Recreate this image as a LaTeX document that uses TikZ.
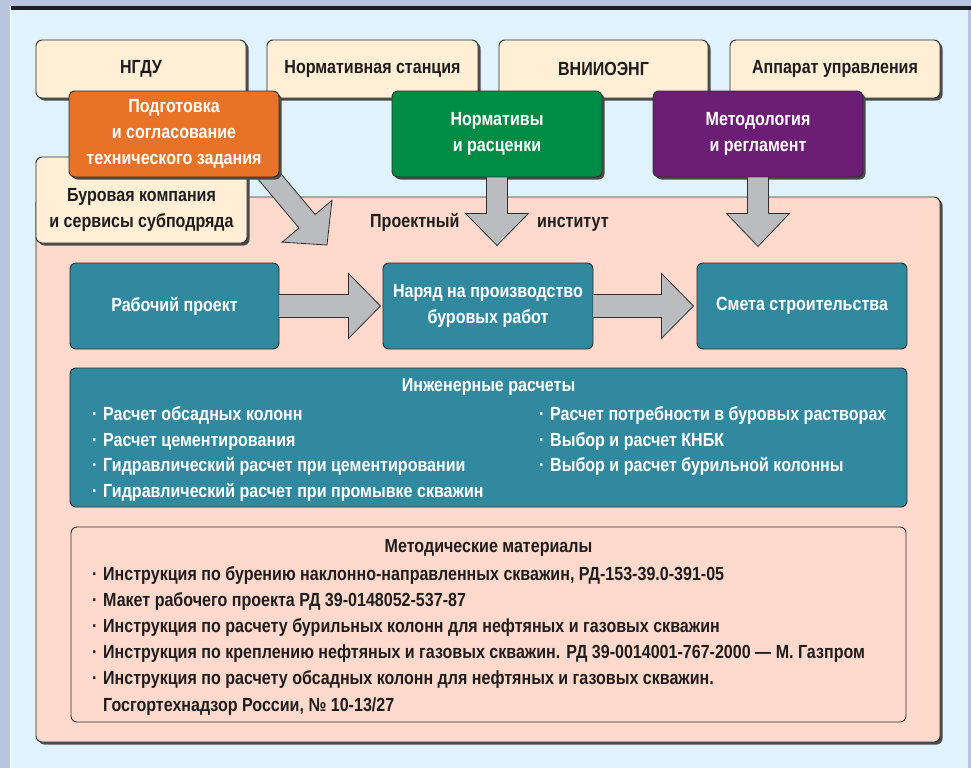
\documentclass[tikz,border=0pt]{standalone}
\usepackage{fontspec}
\setmainfont{Liberation Sans}[FakeStretch=0.845]
\usetikzlibrary{shadows}
\definecolor{bgblue}{HTML}{E0F2FC}
\definecolor{lav}{HTML}{B9C4DF}
\definecolor{blackbar}{HTML}{1E1E22}
\definecolor{cream}{HTML}{FFEFD6}
\definecolor{orng}{HTML}{E87228}
\definecolor{grn}{HTML}{008C44}
\definecolor{purp}{HTML}{6C1D74}
\definecolor{pinkbg}{HTML}{FFDACC}
\definecolor{teal2}{HTML}{3189A0}
\definecolor{arrgray}{HTML}{BBBCC0}
\definecolor{edge}{HTML}{2E2E2E}
\definecolor{ink}{HTML}{1F1C1D}
\definecolor{shadc}{HTML}{4A4A4A}
\tikzset{
  txt/.style={font=\bfseries\fontsize{19}{26}\selectfont, inner sep=0pt},
  box/.style={draw=edge, line width=0.9pt, rounded corners=6pt, inner sep=0pt},
  dropsh/.style={drop shadow={shadow xshift=2.5pt, shadow yshift=-2.5pt, fill=shadc, opacity=1}},
  creambox/.style={box, dropsh, fill=cream, text=ink, txt, align=center},
  colbox/.style={box, dropsh, text=white, txt, align=center},
  tealbox/.style={box, fill=teal2, text=white, txt, align=center},
  fat/.style={fill=arrgray, draw=edge, line width=0.8pt, line join=miter},
  dark/.style={txt, text=ink},
  light/.style={txt, text=white},
}
\newcommand\itm{\makebox[11pt][l]{·}}
\begin{document}
\begin{tikzpicture}[x=1pt,y=-1pt]
\useasboundingbox (0,0) rectangle (971,768);
\fill[bgblue] (0,0) rectangle (971,768);
\fill[lav] (0,0) rectangle (971,6);
\fill[lav] (0,0) rectangle (10,768);
\fill[lav] (968,6) rectangle (971,768);
\fill[white] (10,6) rectangle (11,768);
\fill[blackbar] (11,6) rectangle (971,10);

% big pink area
\node[box, dropsh, fill=pinkbg, minimum width=904pt, minimum height=545pt] (pi) at (488,469.5) {};

% top cream boxes
\node[creambox, minimum width=210pt, minimum height=58pt] (ngdu) at (141,69) {НГДУ};
\node[creambox, minimum width=211pt, minimum height=58pt] (ns) at (372.5,69) {Нормативная станция};
\node[creambox, minimum width=209pt, minimum height=58pt] (vn) at (603.5,69) {ВНИИОЭНГ};
\node[creambox, minimum width=210pt, minimum height=58pt] (au) at (835,69) {Аппарат управления};

% drilling company box
\node[creambox, minimum width=211pt, minimum height=86pt] (bur) at (141.5,200) {};
\node[dark, align=center] (burt) at (141.5,209.5) {Буровая компания\\и сервисы субподряда};

% diagonal arrow (tail hidden under the orange box)
\coordinate (dtip) at (327,245);
\begin{scope}[shift={(dtip)}, rotate=-50]
\filldraw[fat] (0,0) -- (-31,-32.5) -- (-31,-10.5) -- (-125,-10.5) -- (-125,10.5) -- (-31,10.5) -- (-31,32.5) -- cycle;
\end{scope}

% coloured boxes
\node[colbox, fill=orng, minimum width=210pt, minimum height=86pt] (pod) at (174,134) {Подготовка\\и согласование\\технического задания};
\node[colbox, fill=grn, minimum width=210pt, minimum height=86pt] (nrm) at (497,134) {Нормативы\\и расценки};
\node[colbox, fill=purp, minimum width=210pt, minimum height=86pt] (met) at (758,134) {Методология\\и регламент};

% down arrows
\begin{scope}[shift={(nrm.south)}]
\filldraw[fat] (-10.5,0) -- (-10.5,36) -- (-31.5,36) -- (0,68) -- (31.5,36) -- (10.5,36) -- (10.5,0);
\end{scope}
\begin{scope}[shift={(met.south)}]
\filldraw[fat] (-10.5,0) -- (-10.5,36) -- (-31.5,36) -- (0,69) -- (31.5,36) -- (10.5,36) -- (10.5,0);
\end{scope}

\node[dark, anchor=base west] (pr1) at (370,227) {Проектный};
\node[dark, anchor=base west] (pr2) at (537,227) {институт};

% teal process boxes
\node[tealbox, minimum width=209pt, minimum height=86pt] (rp) at (174.5,306) {Рабочий проект};
\node[tealbox, minimum width=210pt, minimum height=86pt] (nar) at (488,306) {Наряд на производство\\буровых работ};
\node[tealbox, minimum width=210pt, minimum height=86pt] (sm) at (802,306) {Смета строительства};

\begin{scope}[shift={(rp.east)}]
\filldraw[fat] (0,-11.5) -- (69,-11.5) -- (69,-32.5) -- (101,0) -- (69,32.5) -- (69,11.5) -- (0,11.5);
\end{scope}
\begin{scope}[shift={(nar.east)}]
\filldraw[fat] (0,-11.5) -- (68,-11.5) -- (68,-32.5) -- (100,0) -- (68,32.5) -- (68,11.5) -- (0,11.5);
\end{scope}

% engineering calculations
\node[tealbox, minimum width=837pt, minimum height=139pt] (eng) at (488.5,437.5) {};
\node[light, anchor=base] (engh) at (488.5,391) {Инженерные расчеты};
\node[light, anchor=base west] (e1) at (92,420) {\itm Расчет обсадных колонн};
\node[light, anchor=base west] (e2) at (92,446) {\itm Расчет цементирования};
\node[light, anchor=base west] (e3) at (92,471.5) {\itm Гидравлический расчет при цементировании};
\node[light, anchor=base west] (e4) at (92,497) {\itm Гидравлический расчет при промывке скважин};
\node[light, anchor=base west] (e5) at (539,420) {\itm Расчет потребности в буровых растворах};
\node[light, anchor=base west] (e6) at (539,446) {\itm Выбор и расчет КНБК};
\node[light, anchor=base west] (e7) at (539,471.5) {\itm Выбор и расчет бурильной колонны};

% methodical materials
\node[box, fill=pinkbg, minimum width=835pt, minimum height=195pt] (mm) at (488.5,624.5) {};
\node[dark, anchor=base] (mmh) at (488.5,552) {Методические материалы};
\node[dark, anchor=base west] (m1) at (92,580) {\itm Инструкция по бурению наклонно-направленных скважин, РД-153-39.0-391-05};
\node[dark, anchor=base west] (m2) at (92,606) {\itm Макет рабочего проекта РД 39-0148052-537-87};
\node[dark, anchor=base west] (m3) at (92,632.5) {\itm Инструкция по расчету бурильных колонн для нефтяных и газовых скважин};
\node[dark, anchor=base west] (m4) at (92,658.5) {\itm Инструкция по креплению нефтяных и газовых скважин. РД 39-0014001-767-2000 — М. Газпром};
\node[dark, anchor=base west] (m5) at (92,684.5) {\itm Инструкция по расчету обсадных колонн для нефтяных и газовых скважин.};
\node[dark, anchor=base west] (m6) at (103,711) {Госгортехнадзор России, № 10-13/27};
\end{tikzpicture}
\end{document}
